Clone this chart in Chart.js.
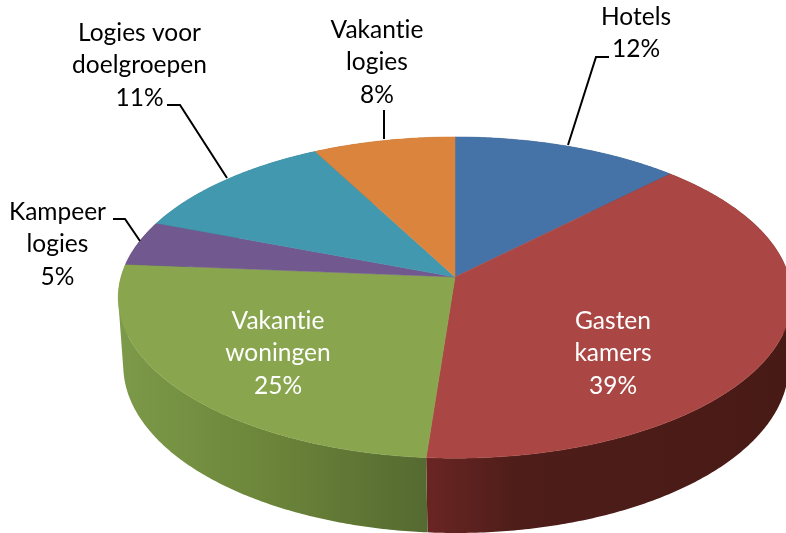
<!DOCTYPE html>
<html>
<head>
<meta charset="utf-8">
<style>
  html, body { margin: 0; padding: 0; background: #fff; overflow: hidden; }
  canvas { display: block; }
</style>
</head>
<body>
<canvas id="myChart" width="786" height="533"></canvas>
<script src="https://cdn.jsdelivr.net/npm/chart.js@4/dist/chart.umd.min.js"></script>
<script>
const categories = ['Hotels', 'Gasten kamers', 'Vakantie woningen', 'Kampeer logies', 'Logies voor doelgroepen', 'Vakantie logies'];
const values = [12.4, 38.8, 25.1, 4.5, 11.49, 7.71];
const topColors = ['#4572A7', '#AA4643', '#89A54E', '#71588F', '#4198AF', '#DB843D'];
const labelLines = [['Hotels'], ['Gasten', 'kamers'], ['Vakantie', 'woningen'], ['Kampeer', 'logies'], ['Logies voor', 'doelgroepen'], ['Vakantie', 'logies']];

// where the label blocks and leader lines sit in the picture
const labelPlace = [[636, 17], [613, 321], [278, 321], [57.5, 212], [139.5, 33], [377, 30]];
const labelColor = ['#000', '#fff', '#fff', '#000', '#000', '#000'];
const leaders = [
  [[609, 57], [596, 57], [568, 145]],
  null,
  null,
  [[113, 219], [125, 219], [140, 241]],
  [[167, 105], [180, 105], [227, 178]],
  [[384, 110], [384, 139]],
];

// side wall shading, left to right
const wallStops = [
  [[0, '#334e70'], [1, '#263a54']],
  [[0, '#6a2523'], [0.25, '#4e1d19'], [1, '#481a16']],
  [[0, '#7c9a49'], [0.5, '#6b8439'], [1, '#556a31']],
  [[0, '#4a3a5e'], [1, '#4a3a5e']],
  [[0, '#2b6373'], [1, '#2b6373']],
  [[0, '#905728'], [1, '#905728']],
];

// perspective of the disc: the apex is not at the middle of the ellipse
const K = 0.128, RX = 334, RY = 158, X0 = 455, Y0 = 277;

function topPoint(a) {
  const u = Math.cos(a), v = Math.sin(a), w = 1 - K * v;
  return [X0 + RX * u / w, Y0 + RY * v / w];
}

function bottomPoint(a) {
  const u = Math.cos(a), v = Math.sin(a), w = 1 - K * v;
  return [456 + 0.988 * RX * u / w, 344 + 1.043 * RY * v / w];
}

function rimAngles(arc) {
  const steps = Math.max(2, Math.ceil((arc.endAngle - arc.startAngle) / 0.01));
  const out = [];
  for (let i = 0; i <= steps; i++) {
    out.push(arc.startAngle + (arc.endAngle - arc.startAngle) * i / steps);
  }
  return out;
}

function addQuad(ctx, q) {
  // same winding for all quads, so the one path fills without holes or seams
  let area = 0;
  q.forEach((p, n) => {
    const r = q[(n + 1) % 4];
    area += p[0] * r[1] - r[0] * p[1];
  });
  const pts = area < 0 ? q.slice().reverse() : q;
  pts.forEach((p, n) => n ? ctx.lineTo(p[0], p[1]) : ctx.moveTo(p[0], p[1]));
  ctx.closePath();
}

const perspectivePie = {
  id: 'perspectivePie',
  beforeDatasetsDraw(chart) {
    const ctx = chart.ctx;
    const arcs = chart.getDatasetMeta(0).data;

    // walls first, the top covers whatever is behind it
    arcs.forEach((arc, i) => {
      const angles = rimAngles(arc);
      const top = angles.map(topPoint);
      const bottom = angles.map(bottomPoint);
      const xs = top.concat(bottom).map(p => p[0]);
      const grad = ctx.createLinearGradient(Math.min(...xs), 0, Math.max(...xs), 0);
      wallStops[i].forEach(s => grad.addColorStop(s[0], s[1]));
      ctx.beginPath();
      for (let n = 1; n < angles.length; n++) {
        addQuad(ctx, [top[n - 1], top[n], bottom[n], bottom[n - 1]]);
      }
      ctx.fillStyle = grad;
      ctx.fill();
    });

    arcs.forEach((arc, i) => {
      ctx.beginPath();
      ctx.moveTo(X0, Y0);
      rimAngles(arc).map(topPoint).forEach(p => ctx.lineTo(p[0], p[1]));
      ctx.closePath();
      ctx.fillStyle = topColors[i];
      ctx.strokeStyle = topColors[i];
      ctx.lineWidth = 0.5;
      ctx.fill();
      ctx.stroke();
    });
    return false; // native arcs are replaced by the projected ones
  },
  afterDraw(chart) {
    const ctx = chart.ctx;
    ctx.save();
    ctx.strokeStyle = '#000';
    ctx.lineWidth = 2;
    leaders.forEach(line => {
      if (!line) return;
      ctx.beginPath();
      line.forEach((p, n) => n ? ctx.lineTo(p[0], p[1]) : ctx.moveTo(p[0], p[1]));
      ctx.stroke();
    });

    ctx.font = '24.5px Lato';
    ctx.letterSpacing = '0.01px'; // keeps Lato from joining "ti"
    ctx.textAlign = 'center';
    ctx.textBaseline = 'middle';
    values.forEach((val, i) => {
      const lines = labelLines[i].concat(Math.round(val) + '%');
      ctx.fillStyle = labelColor[i];
      lines.forEach((txt, n) => {
        ctx.fillText(txt, labelPlace[i][0], labelPlace[i][1] + n * 32.3);
      });
    });
    ctx.restore();
  },
};

new Chart(document.getElementById('myChart'), {
  type: 'pie',
  data: {
    labels: categories,
    datasets: [{ data: values, backgroundColor: topColors, borderWidth: 0 }],
  },
  options: {
    responsive: false,
    animation: false,
    plugins: {
      legend: { display: false },
      tooltip: { enabled: false },
    },
  },
  plugins: [perspectivePie],
});
</script>
</body>
</html>
